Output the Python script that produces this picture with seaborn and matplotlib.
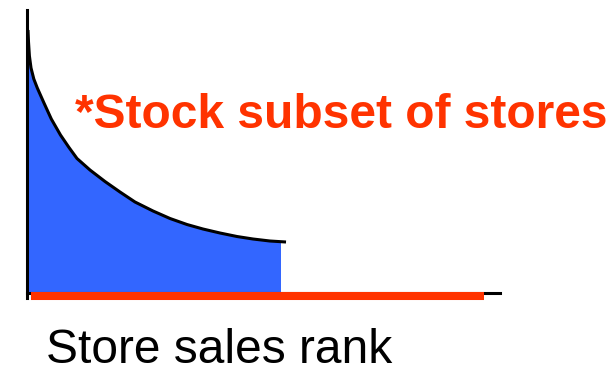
import matplotlib
matplotlib.use("Agg")
import matplotlib.pyplot as plt
from matplotlib.patches import Rectangle
import pandas as pd
import seaborn as sns

# Sales by store rank (rank 0-100, relative sales)
rank = [0.21, 0.32, 0.51, 0.85, 1.44, 2.18, 3.59, 5.14, 7.08, 8.88, 10.57, 13.32,
        16.49, 19.66, 22.83, 26.64, 30.23, 33.83, 37.21, 40.80, 44.40, 47.78,
        51.37, 54.76]
sales = [92.93, 88.69, 83.75, 79.51, 75.62, 72.44, 67.14, 61.48, 55.83, 51.41,
         47.53, 43.46, 39.40, 35.69, 32.16, 28.98, 26.33, 24.20, 22.61, 21.20,
         19.96, 19.08, 18.37, 18.02]
stocked_upto = 53.5          # stores that carry the item
red_span = [0.85, 96.6]      # stocked subset bar along the axis
label_text = "*Stock subset of stores"
xlabel_text = "Store sales rank"

df = pd.DataFrame({"rank": rank, "sales": sales})

sns.set_theme(style="white")
plt.rcParams["font.family"] = ["Liberation Sans", "DejaVu Sans"]

fig = plt.figure(figsize=(6.14, 3.75), dpi=100)
ax = fig.add_axes([27 / 614, 1 - 293 / 375, (500 - 27) / 614, (293 - 10) / 375])

blue = "#3366FF"
red = "#FF3300"

# shaded area under the curve, limited to the stocked stores
fill = ax.fill_between(df["rank"], 0, df["sales"], color=blue, linewidth=0, zorder=1)
fill.set_clip_path(Rectangle((0, 0), stocked_upto, 200, transform=ax.transData))

sns.lineplot(data=df, x="rank", y="sales", ax=ax, color="black", linewidth=2.2,
             zorder=3, solid_capstyle="butt", solid_joinstyle="round")

ax.set_xlim(0, 100)
ax.set_ylim(0, 100)

ax.plot(red_span, [-1.06, -1.06], color=red, linewidth=5.8, solid_capstyle="butt",
        clip_on=False, zorder=5)

for side in ["top", "right"]:
    ax.spines[side].set_visible(False)
for side in ["left", "bottom"]:
    ax.spines[side].set_color("black")
    ax.spines[side].set_linewidth(2.2)
ax.spines["left"].set_bounds(-1.8, 100)
ax.set_xticks([])
ax.set_yticks([])
ax.set_xlabel("")
ax.set_ylabel("")

fig.text(75 / 614, 1 - 128 / 375, label_text, color=red, fontsize=34.5,
         fontweight="bold", ha="left", va="baseline")
fig.text(46 / 614, 1 - 363 / 375, xlabel_text, color="black", fontsize=34.5,
         ha="left", va="baseline")

fig.savefig("out.png", dpi=100, facecolor="white")
